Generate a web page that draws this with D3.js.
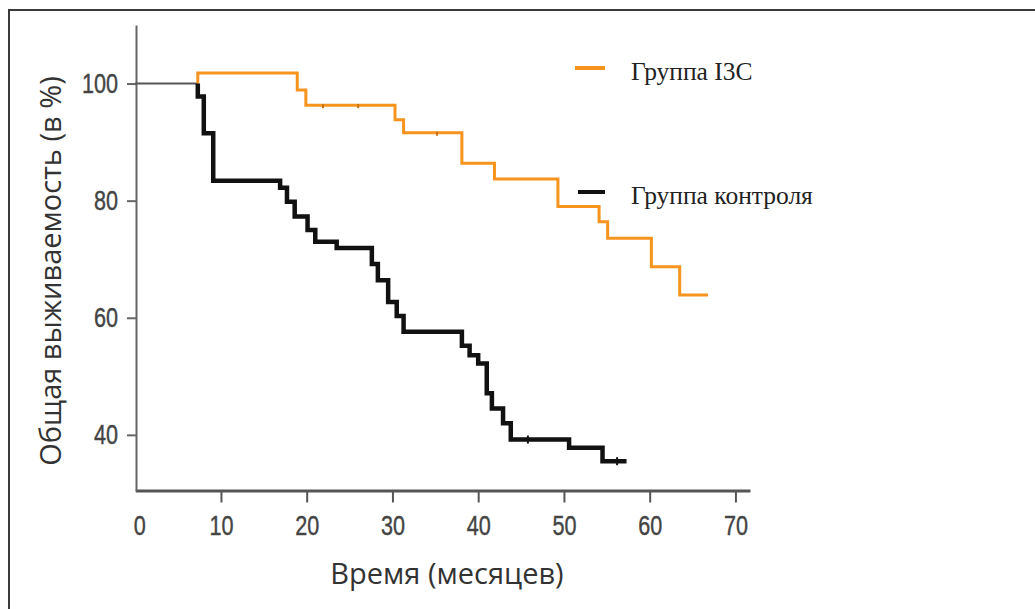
<html>
<head>
<meta charset="utf-8">
<title>survival curves</title>
<script src="https://d3js.org/d3.v7.min.js"></script>
<style>
body { margin: 0; background: #fff; }
svg { display: block; }
.tick text { font-family: 'Liberation Sans', Arial, sans-serif; fill: #444; stroke: #444; stroke-width: 0.4; }
</style>
</head>
<body>
<svg id="chart" width="1035" height="609"></svg>
<script>
// time (months) / survival (%)
var startTimes = [0, 7.3];
var startSurv = [100, 100];

var iscTimes = [7.3, 7.3, 18.9, 19.9, 30.3, 31.3, 38.1, 41.9, 49.3, 54.1, 55.1, 60.2, 63.5, 66.8];
var iscSurv = [100, 101.8, 98.9, 96.3, 93.8, 91.6, 86.4, 83.7, 79.0, 76.4, 73.6, 68.7, 63.9, 63.9];

var ctrlTimes = [7.3, 7.3, 8.0, 9.1, 16.9, 17.7, 18.6, 20.1, 21.0, 23.5, 27.6, 28.3, 29.5, 30.5, 31.3,
  38.1, 39.0, 40.0, 41.0, 41.6, 42.9, 43.8, 50.6, 54.5, 57.3];
var ctrlSurv = [100, 97.8, 91.5, 83.4, 82.2, 79.8, 77.3, 75.0, 73.0, 71.9, 69.2, 66.4, 62.7, 60.3, 57.6,
  55.2, 53.6, 52.2, 47.1, 44.5, 42.0, 39.2, 37.8, 35.5, 35.5];

// censored marks
var iscCensorT = [21.9, 26.0, 35.2];
var iscCensorS = [96.3, 96.3, 91.6];
var ctrlCensorT = [45.8, 56.2];
var ctrlCensorS = [39.2, 35.5];

var xTicks = [0, 10, 20, 30, 40, 50, 60, 70];
var yTicks = [40, 60, 80, 100];

var legendNames = ["Группа I3C", "Группа контроля"];
var legendColors = ["#f7941d", "#111"];

var svg = d3.select("#chart");

// frame (top and left edge only visible)
svg.append("line").attr("x1", 8).attr("y1", 10).attr("x2", 1035).attr("y2", 10)
  .style("stroke", "#3a3a3a").style("stroke-width", 2);
svg.append("line").attr("x1", 9).attr("y1", 10).attr("x2", 9).attr("y2", 609)
  .style("stroke", "#3a3a3a").style("stroke-width", 2);

var x = d3.scaleLinear().domain([0, 71.7]).range([135.2, 750]);
var y = d3.scaleLinear().domain([30.5, 110]).range([490.5, 25]);

var xAxis = d3.axisBottom(x).tickValues(xTicks).tickSize(12).tickPadding(13).tickSizeOuter(0);
var yAxis = d3.axisLeft(y).tickValues(yTicks).tickSize(9).tickPadding(9).tickSizeOuter(0);

// squeeze tick labels to look like a narrow face
function narrow(sel) {
  sel.each(function () {
    var w = this.getComputedTextLength();
    d3.select(this).attr("textLength", w * 0.8).attr("lengthAdjust", "spacingAndGlyphs");
  });
}

var gx = svg.append("g").attr("transform", "translate(0,490.5)").call(xAxis);
gx.select(".domain").style("stroke", "#555").style("stroke-width", 3);
gx.selectAll(".tick line").style("stroke", "#555").style("stroke-width", 2)
  .filter(function (d) { return d === 0; }).remove();
gx.selectAll(".tick text").attr("font-size", 27)
  .attr("dx", function (d) { return d === 0 ? 4 : 0; })
  .call(narrow);

var gy = svg.append("g").attr("transform", "translate(136,0)").call(yAxis);
gy.select(".domain").style("stroke", "#666").style("stroke-width", 2);
gy.selectAll(".tick line").style("stroke", "#666").style("stroke-width", 2);
gy.selectAll(".tick text").attr("font-size", 27).call(narrow);

// axis titles
svg.append("text")
  .text("Время (месяцев)")
  .attr("x", 447).attr("y", 584)
  .attr("text-anchor", "middle")
  .attr("font-family", "'Open Sans', sans-serif")
  .attr("font-size", 29)
  .style("fill", "#333");
svg.append("text")
  .text("Общая выживаемость (в %)")
  .attr("transform", "translate(61,271) rotate(-90)")
  .attr("text-anchor", "middle")
  .attr("font-family", "'Open Sans', sans-serif")
  .attr("font-size", 29)
  .style("fill", "#333");

var line = d3.line()
  .x(function (d) { return x(d[0]); })
  .y(function (d) { return y(d[1]); })
  .curve(d3.curveStepAfter);

function pairs(ts, ss) { return ts.map(function (t, i) { return [t, ss[i]]; }); }

svg.append("path").datum(pairs(startTimes, startSurv))
  .attr("d", line).style("fill", "none").style("stroke", "#555").style("stroke-width", 2);

svg.append("path").datum(pairs(iscTimes, iscSurv))
  .attr("d", line).style("fill", "none").style("stroke", legendColors[0]).style("stroke-width", 3);

svg.append("path").datum(pairs(ctrlTimes, ctrlSurv))
  .attr("d", line).style("fill", "none").style("stroke", legendColors[1]).style("stroke-width", 4.5);

pairs(iscCensorT, iscCensorS).forEach(function (p) {
  svg.append("line").attr("x1", x(p[0])).attr("x2", x(p[0]))
    .attr("y1", y(p[1]) - 1).attr("y2", y(p[1]) + 3)
    .style("stroke", "#c87010").style("stroke-width", 2);
});
pairs(ctrlCensorT, ctrlCensorS).forEach(function (p) {
  svg.append("line").attr("x1", x(p[0])).attr("x2", x(p[0]))
    .attr("y1", y(p[1]) - 4).attr("y2", y(p[1]) + 4)
    .style("stroke", "#111").style("stroke-width", 2);
});

// legend
var legendY = [68, 192];
var legendX1 = [575, 578];
legendNames.forEach(function (name, i) {
  svg.append("line")
    .attr("x1", legendX1[i]).attr("x2", 605)
    .attr("y1", legendY[i]).attr("y2", legendY[i])
    .style("stroke", legendColors[i]).style("stroke-width", 4);
  svg.append("text")
    .text(name)
    .attr("x", 631).attr("y", legendY[i] + 12)
    .attr("font-family", "'Liberation Serif', 'Times New Roman', serif")
    .attr("font-size", 25.5)
    .style("fill", "#222");
});
</script>
</body>
</html>
